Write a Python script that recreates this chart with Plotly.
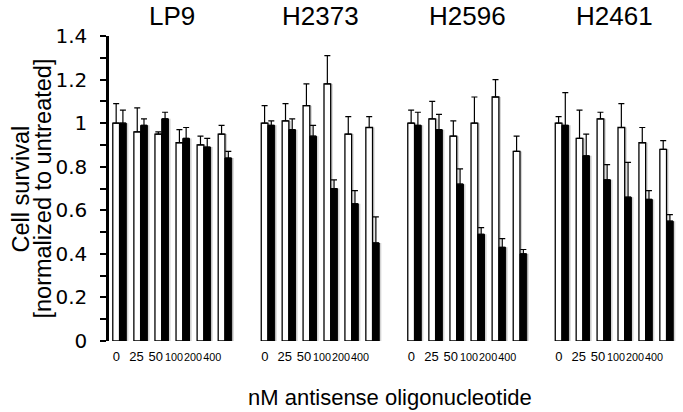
import plotly.graph_objects as go

### Data
conc = ["0", "25", "50", "100", "200", "400"]
cell_lines = ["LP9", "H2373", "H2596", "H2461"]

# white bars
ctrl_mean = [
    [1.00, 0.96, 0.95, 0.91, 0.90, 0.95],   # LP9
    [1.00, 1.01, 1.08, 1.18, 0.95, 0.98],   # H2373
    [1.00, 1.02, 0.94, 1.00, 1.12, 0.87],   # H2596
    [1.00, 0.93, 1.02, 0.98, 0.91, 0.88],   # H2461
]
ctrl_err = [
    [0.09, 0.11, 0.01, 0.06, 0.04, 0.04],
    [0.08, 0.08, 0.10, 0.13, 0.08, 0.05],
    [0.06, 0.08, 0.07, 0.12, 0.08, 0.07],
    [0.03, 0.13, 0.03, 0.11, 0.07, 0.04],
]
# black bars
as_mean = [
    [1.00, 0.99, 1.02, 0.93, 0.89, 0.84],
    [0.99, 0.97, 0.94, 0.70, 0.63, 0.45],
    [0.99, 0.97, 0.72, 0.49, 0.43, 0.40],
    [0.99, 0.85, 0.74, 0.66, 0.65, 0.55],
]
as_err = [
    [0.06, 0.03, 0.03, 0.05, 0.04, 0.03],
    [0.02, 0.05, 0.05, 0.04, 0.06, 0.12],
    [0.06, 0.07, 0.07, 0.03, 0.04, 0.02],
    [0.15, 0.10, 0.07, 0.16, 0.04, 0.03],
]

domains = [[0.0035, 0.2254], [0.264, 0.4842], [0.521, 0.743], [0.7798, 1.0]]
# the tick labels sit a bit left of the bar pairs in the original
label_pos = [-0.15, 0.8, 1.72, 2.58, 3.49, 4.4]
tick_text = [c if len(c) < 3 else '<span style="font-size:10.8px">%s</span>' % c for c in conc]

BW = 0.32      # bar width (group = 1)
SH = 0.1       # drop-shadow shift
no_minus = [0] * len(conc)

fig = go.Figure()
for i, name in enumerate(cell_lines):
    xa = "x" if i == 0 else "x%d" % (i + 1)
    xs = list(range(len(conc)))
    # grey drop shadows first
    for vals, off in ((ctrl_mean[i], -BW), (as_mean[i], 0)):
        fig.add_trace(go.Bar(x=xs, y=vals, xaxis=xa, yaxis="y", width=BW, offset=off + SH,
                             marker=dict(color="#d4d4d4", line_width=0), hoverinfo="skip"))
    fig.add_trace(go.Bar(x=xs, y=ctrl_mean[i], xaxis=xa, yaxis="y", width=BW, offset=-BW,
                         marker=dict(color="white", line=dict(color="black", width=1.3)),
                         error_y=dict(type="data", symmetric=False, array=ctrl_err[i],
                                      arrayminus=no_minus, color="black",
                                      thickness=1.2, width=3)))
    fig.add_trace(go.Bar(x=xs, y=as_mean[i], xaxis=xa, yaxis="y", width=BW, offset=0,
                         marker=dict(color="black", line=dict(color="black", width=1)),
                         error_y=dict(type="data", symmetric=False, array=as_err[i],
                                      arrayminus=no_minus, color="black",
                                      thickness=1.2, width=3)))
    ax = dict(domain=domains[i], anchor="y", range=[-0.5, 5.5], showline=False,
              showgrid=False, zeroline=False, ticks="", tickmode="array",
              tickvals=label_pos, ticktext=tick_text, tickangle=0, automargin=False,
              ticklabelstandoff=6,
              tickfont=dict(family="Liberation Sans", size=13, color="black"))
    fig.layout["xaxis" if i == 0 else "xaxis%d" % (i + 1)] = ax
    fig.add_annotation(text=name, xref="paper", yref="paper",
                       x=sum(domains[i]) / 2, y=1.0, yshift=20, showarrow=False,
                       xanchor="center", yanchor="middle",
                       font=dict(family="Liberation Sans", size=26, color="black"))

fig.update_layout(
    width=683, height=412,
    margin=dict(l=107, r=6, t=36, b=71, autoexpand=False),
    paper_bgcolor="white", plot_bgcolor="white",
    showlegend=False,
    barmode="overlay",
    yaxis=dict(range=[0, 1.4], anchor="free", position=0, showgrid=False, zeroline=False,
               automargin=False,
               showline=True, linecolor="black", linewidth=2.5,
               tickvals=[0, 0.2, 0.4, 0.6, 0.8, 1, 1.2, 1.4],
               ticktext=["0", "0.2", "0.4", "0.6", "0.8", "1", "1.2", "1.4"],
               ticks="outside", ticklen=6, tickwidth=2, tickcolor="black",
               ticklabelstandoff=9,
               minor=dict(tickvals=[0.1, 0.3, 0.5, 0.7, 0.9, 1.1, 1.3], ticks="outside",
                          ticklen=6, tickwidth=2, tickcolor="black"),
               tickfont=dict(family="DejaVu Sans", size=20, color="black")),
)

# y title: two lines set a little tighter than plotly's default line height
fig.add_annotation(text="Cell survival", textangle=-90,
                   xref="paper", yref="paper", x=-0.151, y=0.5, showarrow=False,
                   xanchor="center", yanchor="middle",
                   font=dict(family="Liberation Sans", size=23.5, color="black"))
fig.add_annotation(text="[normalized to untreated]", textangle=-90,
                   xref="paper", yref="paper", x=-0.114, y=0.5, showarrow=False,
                   xanchor="center", yanchor="middle",
                   font=dict(family="Liberation Sans", size=23.5, color="black"))
fig.add_annotation(text="nM antisense oligonucleotide", xref="paper", yref="paper",
                   x=0.496, y=0, yshift=-56, showarrow=False,
                   xanchor="center", yanchor="middle",
                   font=dict(family="Liberation Sans", size=22, color="black"))

fig.write_html("out.html", config={"displayModeBar": False},
               post_script="document.body.style.margin='0';")
